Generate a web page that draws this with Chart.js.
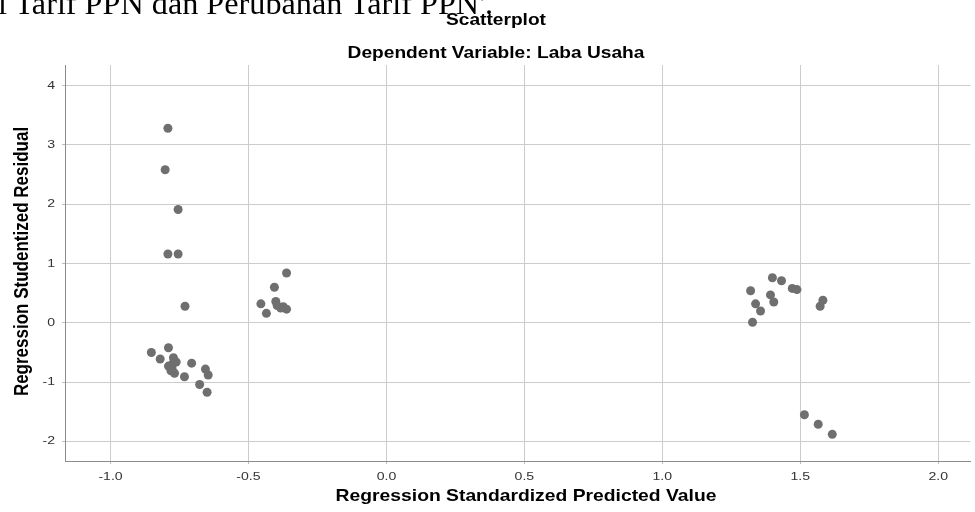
<!DOCTYPE html>
<html>
<head>
<meta charset="utf-8">
<script src="https://cdn.jsdelivr.net/npm/chart.js@4/dist/chart.umd.min.js"></script>
<style>
  html, body { margin: 0; padding: 0; background: #fff; overflow: hidden; }
  #wrap { position: relative; width: 975px; height: 512px; }
  #doc { position: absolute; left: -2px; top: -12px; font-family: "Liberation Serif", "DejaVu Serif", serif; font-size: 31px; line-height: 31px; color: #000; white-space: nowrap; transform-origin: 0 0; }
  canvas { position: absolute; left: 0; top: 0; }
</style>
</head>
<body>
<div id="wrap">
  <canvas id="c" width="975" height="512"></canvas>
  <div id="doc"><span id="docText">l Tarif PPN dan Perubahan Tarif PPN'.</span></div>
</div>
<script>
const chartTitle = "Scatterplot";
const chartSubtitle = "Dependent Variable: Laba Usaha";
const xAxisTitle = "Regression Standardized Predicted Value";
const yAxisTitle = "Regression Studentized Residual";

const xTickValues = [-1.0, -0.5, 0.0, 0.5, 1.0, 1.5, 2.0];
const xTickLabels = ["-1.0", "-0.5", "0.0", "0.5", "1.0", "1.5", "2.0"];
const yTickValues = [-2, -1, 0, 1, 2, 3, 4];
const yTickLabels = ["-2", "-1", "0", "1", "2", "3", "4"];

const predicted = [
  -0.792, -0.802, -0.755, -0.792, -0.755, -0.730, -0.852, -0.790, -0.820, -0.772,
  -0.762, -0.790, -0.777, -0.768, -0.706, -0.732, -0.656, -0.646, -0.677, -0.650,
  -0.774, -0.781,
  -0.362, -0.406, -0.455, -0.435, -0.401, -0.396, -0.383, -0.362, -0.374,
  1.399, 1.432, 1.471, 1.488, 1.392, 1.404, 1.582, 1.572, 1.320, 1.338, 1.356, 1.327,
  1.515, 1.565, 1.616
];
const residual = [
  3.28, 2.58, 1.91, 1.16, 1.16, 0.28, -0.50, -0.42, -0.61, -0.59,
  -0.66, -0.73, -0.77, -0.85, -0.68, -0.91, -0.78, -0.88, -1.04, -1.17,
  -0.69, -0.81,
  0.84, 0.60, 0.32, 0.16, 0.36, 0.29, 0.25, 0.23, 0.27,
  0.76, 0.71, 0.58, 0.56, 0.47, 0.35, 0.38, 0.28, 0.54, 0.32, 0.20, 0.01,
  -1.55, -1.71, -1.88
];

const points = predicted.map((x, i) => ({ x: x, y: residual[i] }));

// fit the cropped document line to its width in the picture
(function () {
  const span = document.getElementById('docText');
  const w = span.getBoundingClientRect().width;
  document.getElementById('doc').style.transform = 'scaleX(' + (495 / w) + ')';
})();

const SANS = '"Liberation Sans", Arial, sans-serif';

function stretchedText(ctx, text, x, y, sx, align) {
  ctx.save();
  ctx.translate(x, y);
  ctx.scale(sx, 1);
  ctx.textAlign = align;
  ctx.fillText(text, 0, 0);
  ctx.restore();
}

const textPlugin = {
  id: 'spssText',
  afterDraw(chart) {
    const ctx = chart.ctx;
    const xs = chart.scales.x, ys = chart.scales.y;
    ctx.save();
    // tick labels
    ctx.fillStyle = '#333';
    ctx.font = '11px ' + SANS;
    ctx.textBaseline = 'alphabetic';
    xTickValues.forEach((v, i) => {
      stretchedText(ctx, xTickLabels[i], xs.getPixelForValue(v), 479.5, 1.28, 'center');
    });
    ctx.textBaseline = 'middle';
    yTickValues.forEach((v, i) => {
      stretchedText(ctx, yTickLabels[i], 55, ys.getPixelForValue(v), 1.28, 'right');
    });
    // titles
    ctx.fillStyle = '#000';
    ctx.textBaseline = 'alphabetic';
    ctx.font = 'bold 16.5px ' + SANS;
    stretchedText(ctx, chartTitle, 496, 25, 1.16, 'center');
    stretchedText(ctx, chartSubtitle, 496, 58, 1.16, 'center');
    stretchedText(ctx, xAxisTitle, 526, 501, 1.17, 'center');
    // y axis title
    ctx.font = 'bold 17px ' + SANS;
    ctx.translate(28, 261.5);
    ctx.scale(1.17, 1);
    ctx.rotate(-Math.PI / 2);
    ctx.textAlign = 'center';
    ctx.fillText(yAxisTitle, 0, 0);
    ctx.restore();
  }
};

new Chart(document.getElementById('c'), {
  type: 'scatter',
  data: {
    datasets: [{
      data: points,
      backgroundColor: '#6f6f6f',
      borderWidth: 0,
      pointRadius: 4.5,
      pointHoverRadius: 4.5
    }]
  },
  options: {
    responsive: false,
    devicePixelRatio: 1,
    animation: false,
    events: [],
    layout: { padding: { top: 65, right: 0, left: 0, bottom: 0 } },
    plugins: { legend: { display: false }, tooltip: { enabled: false }, title: { display: false } },
    scales: {
      x: {
        type: 'linear',
        min: -1.165,
        max: 2.117,
        afterBuildTicks: (s) => { s.ticks = xTickValues.map(v => ({ value: v })); },
        afterFit: (s) => { s.height = 51; },
        grid: { color: '#cccccc', lineWidth: 1, tickLength: 3, tickColor: '#bbbbbb' },
        border: { display: true, color: '#8c8c8c', width: 1 },
        ticks: { display: false }
      },
      y: {
        type: 'linear',
        min: -2.33,
        max: 4.347,
        afterBuildTicks: (s) => { s.ticks = yTickValues.map(v => ({ value: v })); },
        afterFit: (s) => { s.width = 65; },
        grid: { color: '#cccccc', lineWidth: 1, tickLength: 3, tickColor: '#bbbbbb' },
        border: { display: true, color: '#8c8c8c', width: 1 },
        ticks: { display: false }
      }
    }
  },
  plugins: [textPlugin]
});
</script>
</body>
</html>
